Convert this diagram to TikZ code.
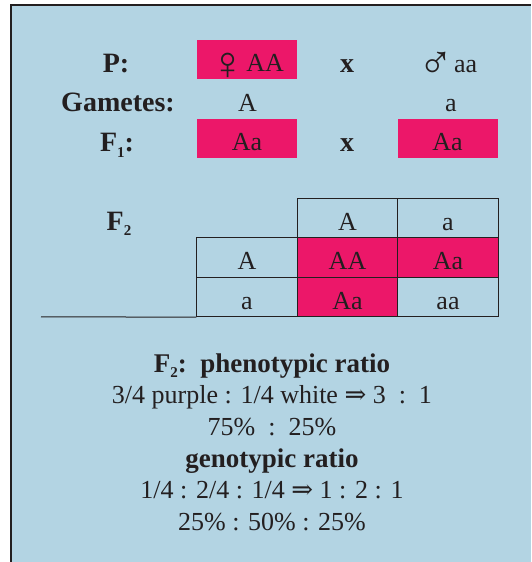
\documentclass[tikz,border=0pt]{standalone}
\usepackage{fontspec}
\setmainfont{Liberation Serif}
\newfontfamily\symbfont{DejaVu Serif}
\usepackage{xcolor}
\definecolor{boxblue}{RGB}{179,212,227}
\definecolor{punnett}{RGB}{236,23,105}
\definecolor{inkgray}{RGB}{35,31,32}
\newcommand{\gensub}[1]{\raisebox{-0.45ex}{\fontsize{15}{15}\selectfont #1}}
\newcommand{\sexsign}[2]{\raisebox{#1}{\scalebox{1.8}{#2}}}

\tikzset{
  lbl/.style={font=\fontsize{28}{32}\selectfont\bfseries, text=inkgray, inner sep=0pt, anchor=base},
  head/.style={font=\fontsize{27}{32}\selectfont\bfseries, text=inkgray, inner sep=0pt, anchor=base},
  txt/.style={font=\fontsize{26}{31}\selectfont, text=inkgray, inner sep=0pt, anchor=base},
  cell/.style={draw=inkgray, line width=0.9pt, minimum width=100.5pt, minimum height=39.5pt,
    inner sep=0pt, text height=24pt, text depth=0pt, font=\fontsize{26}{31}\selectfont, text=inkgray},
  pinkcell/.style={cell, fill=punnett},
  pinkbox/.style={fill=punnett, minimum width=100pt, minimum height=39pt, inner sep=0pt,
    text height=24pt, text depth=0pt, font=\fontsize{26}{31}\selectfont, text=inkgray}
}

\begin{document}
\begin{tikzpicture}[x=1pt,y=-1pt]
\useasboundingbox (0,0) rectangle (531,562);
\fill[white] (0,0) rectangle (531,562);
\fill[boxblue] (11,5) rectangle (531,562);
\draw[inkgray, line width=1.2pt] (11,562) -- (11,5) -- (531,5);

% parents, gametes, F1
\node[lbl] (plabel) at (116,72.5) {P:};
\node[pinkbox] (female) at (247,59.5) {\sexsign{-8pt}{♀}\kern1pt AA};
\node[lbl] (cross1) at (347,72.5) {x};
\node[txt] (male) at (448,72.5) {\sexsign{-6pt}{♂}aa};
\node[lbl] (glabel) at (118,111.5) {Gametes:};
\node[txt] (gamA) at (247.5,111.5) {A};
\node[txt] (gama) at (451,111.5) {a};
\node[lbl] (f1label) at (117,151.5) {F\gensub{1}:};
\node[pinkbox] (f1left) at (247,138.5) {Aa};
\node[lbl] (cross2) at (347,151.5) {x};
\node[pinkbox] (f1right) at (447.5,138.5) {Aa};

% Punnett square
\node[lbl] (f2label) at (119,230) {F\gensub{2}};
\node[cell] (h1) at (347.5,218) {A};
\node[cell] (h2) at (448,218) {a};
\node[cell] (r1c0) at (247,257.5) {A};
\node[pinkcell] (r1c1) at (347.5,257.5) {AA};
\node[pinkcell] (r1c2) at (448,257.5) {Aa};
\node[cell] (r2c0) at (247,297) {a};
\node[pinkcell] (r2c1) at (347.5,297) {Aa};
\node[cell] (r2c2) at (448,297) {aa};
\coordinate (rulestart) at (41,316.75);
\draw[inkgray, line width=1pt] (rulestart) -- (r2c0.south west);

% ratios
\node[head] (phenohead) at (272,372) {F\gensub{2}:\ \ phenotypic ratio};
\node[txt] (phenofrac) at (272,403) {3/4 purple : 1/4 white {\symbfont ⇒} 3\enspace:\enspace1};
\node[txt] (phenopct) at (272,435) {75\%\enspace:\enspace25\%};
\node[head] (genohead) at (272,467) {genotypic ratio};
\node[txt] (genofrac) at (272,498) {1/4 : 2/4 : 1/4 {\symbfont ⇒} 1 : 2 : 1};
\node[txt] (genopct) at (272,530) {25\% : 50\% : 25\%};
\end{tikzpicture}
\end{document}
